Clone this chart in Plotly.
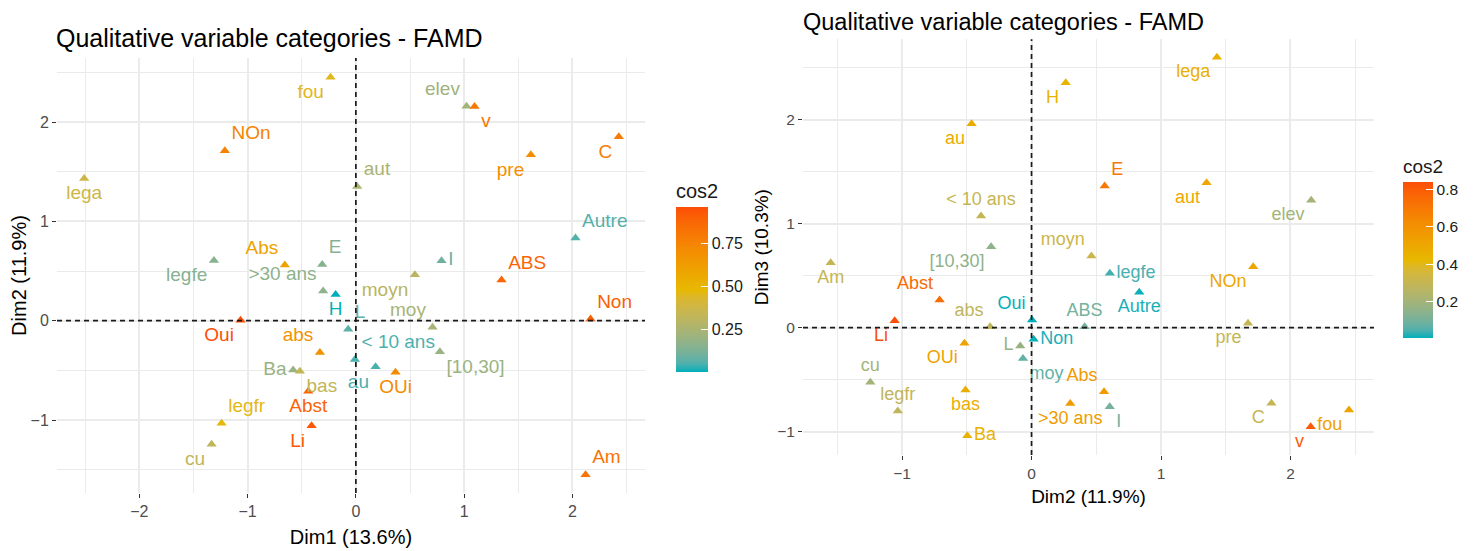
import plotly.graph_objects as go

# ---------------- data ----------------
categories = ["fou", "NOn", "lega", "aut", "legfe", "Abs", "E", "elev", "v", "C", "pre",
              "Autre", "I", "moyn", "ABS", ">30 ans", "H", "Oui", "L", "abs", "< 10 ans",
              "au", "Ba", "bas", "Abst", "legfr", "Li", "cu", "Non", "moy", "[10,30]",
              "OUi", "Am"]
dim1 = [-0.234, -1.21, -2.509, 0.012, -1.311, -0.656, -0.311, 1.022, 1.096, 2.428, 1.616,
        2.028, 0.791, 0.545, 1.345, -0.302, -0.187, -1.065, -0.071, -0.332, -0.009,
        0.182, -0.579, -0.517, -0.44, -1.24, -0.409, -1.332, 2.167, 0.708, 0.776,
        0.366, 2.121]
dim2 = [2.452, 1.712, 1.432, 1.352, 0.605, 0.56, 0.565, 2.16, 2.156, 1.853, 1.672,
        0.832, 0.604, 0.463, 0.41, 0.299, 0.264, 0.004, -0.087, -0.32, -0.39,
        -0.463, -0.496, -0.51, -0.71, -1.033, -1.057, -1.245, 0.016, -0.066, -0.312,
        -0.518, -1.551]
dim3 = [-0.791, 0.587, 2.60, 1.394, 0.523, -0.615, 1.362, 1.225, -0.952, -0.727, 0.042,
        0.34, -0.76, 0.689, 0.01, -0.728, 2.356, 0.074, -0.176, 0.01, 1.074,
        1.962, -1.04, -0.60, 0.266, -0.80, 0.067, -0.525, -0.112, -0.295, 0.779,
        -0.15, 0.625]
cos2_12 = [0.45, 0.75, 0.38, 0.25, 0.15, 0.60, 0.15, 0.22, 0.80, 0.78, 0.70,
           0.06, 0.10, 0.30, 0.88, 0.17, 0.005, 0.96, 0.07, 0.68, 0.05,
           0.05, 0.20, 0.33, 0.88, 0.47, 0.93, 0.32, 0.90, 0.24, 0.20,
           0.72, 0.82]
cos2_23 = [0.52, 0.50, 0.46, 0.50, 0.04, 0.56, 0.70, 0.20, 0.80, 0.30, 0.30,
           0.01, 0.10, 0.32, 0.10, 0.55, 0.44, 0.005, 0.17, 0.28, 0.30,
           0.48, 0.45, 0.47, 0.75, 0.28, 0.84, 0.20, 0.01, 0.07, 0.15,
           0.52, 0.30]
ticks_cb1 = [0.25, 0.50, 0.75]
ticks_cb2 = [0.2, 0.4, 0.6, 0.8]

# ---------------- label placement (style) ----------------
pos_left = ["bottom left", "top right", "bottom center", "top right", "bottom left", "top left",
            "top right", "top left", "bottom right", "bottom left", "bottom left",
            "top right", "middle right", "bottom left", "top right", "top left", "bottom center",
            "bottom left", "top right", "top left", "top right", "bottom left", "middle left",
            "bottom right", "bottom center", "top right", "bottom left", "bottom left",
            "top right", "top left", "bottom right", "bottom center", "top right"]
pos_right = ["bottom left", "bottom left", "bottom left", "bottom left", "middle right", "top left",
             "top right", "bottom left", "bottom left", "bottom left", "bottom left",
             "bottom center", "bottom right", "top left", "top center", "bottom center", "bottom left",
             "top left", "middle left", "top left", "top center", "bottom left", "middle right",
             "bottom center", "top left", "top center", "bottom left", "top center",
             "middle right", "bottom right", "bottom left", "bottom left", "bottom center"]

# ---------------- colour scale (CIELAB interpolation like ggplot) ----------------
grad = ["#00AFBB", "#E7B800", "#FC4E07"]


def _hex2rgb(h):
    h = h.lstrip("#")
    return [int(h[i:i + 2], 16) for i in (0, 2, 4)]


def _rgb2lab(rgb):
    def lin(c):
        c = c / 255.0
        return c / 12.92 if c <= 0.04045 else ((c + 0.055) / 1.055) ** 2.4
    r, g, b = [lin(c) for c in rgb]
    X = (0.4124 * r + 0.3576 * g + 0.1805 * b) / 0.95047
    Y = (0.2126 * r + 0.7152 * g + 0.0722 * b)
    Z = (0.0193 * r + 0.1192 * g + 0.9505 * b) / 1.08883

    def f(t):
        return t ** (1 / 3) if t > 0.008856 else 7.787 * t + 16 / 116
    fx, fy, fz = f(X), f(Y), f(Z)
    return [116 * fy - 16, 500 * (fx - fy), 200 * (fy - fz)]


def _lab2hex(lab):
    L, a, b = lab
    fy = (L + 16) / 116
    fx = fy + a / 500
    fz = fy - b / 200

    def finv(t):
        return t ** 3 if t ** 3 > 0.008856 else (t - 16 / 116) / 7.787
    X, Y, Z = finv(fx) * 0.95047, finv(fy), finv(fz) * 1.08883
    r = 3.2406 * X - 1.5372 * Y - 0.4986 * Z
    g = -0.9689 * X + 1.8758 * Y + 0.0415 * Z
    bb = 0.0557 * X - 0.2040 * Y + 1.0570 * Z

    def gam(c):
        c = max(0.0, min(1.0, c))
        return 12.92 * c if c <= 0.0031308 else 1.055 * c ** (1 / 2.4) - 0.055
    return "#%02X%02X%02X" % tuple(int(round(gam(c) * 255)) for c in (r, g, bb))


_labs = [_rgb2lab(_hex2rgb(c)) for c in grad]


def ramp(t):
    t = max(0.0, min(1.0, t))
    seg = min(int(t * 2), 1)
    u = t * 2 - seg
    l0, l1 = _labs[seg], _labs[seg + 1]
    return _lab2hex([l0[i] + (l1[i] - l0[i]) * u for i in range(3)])


colorscale = [[i / 20, ramp(i / 20)] for i in range(21)]


def value_colors(vals):
    lo, hi = min(vals), max(vals)
    return [ramp((v - lo) / (hi - lo)) for v in vals]


FONT = "Liberation Sans, Arial, sans-serif"
# the page body adds an 8px margin, so the figure is laid out in page pixels minus 8
OFF = 8
W, H = 1468, 543


def px(X):
    return (X - OFF) / W


def py(Y):
    return 1 - (Y - OFF) / H


fig = go.Figure()

fig.add_trace(go.Scatter(
    x=dim1, y=dim2, mode="markers+text", text=categories,
    textposition=pos_left,
    textfont=dict(family=FONT, size=19, color=value_colors(cos2_12)),
    marker=dict(symbol="triangle-up", size=9, color=cos2_12, coloraxis="coloraxis"),
    xaxis="x", yaxis="y", showlegend=False, cliponaxis=False,
))
fig.add_trace(go.Scatter(
    x=dim2, y=dim3, mode="markers+text", text=categories,
    textposition=pos_right,
    textfont=dict(family=FONT, size=18, color=value_colors(cos2_23)),
    marker=dict(symbol="triangle-up", size=9, color=cos2_23, coloraxis="coloraxis2"),
    xaxis="x2", yaxis="y2", showlegend=False, cliponaxis=False,
))

grid = "#EBEBEB"


def axis(domain, rng, title, anchor, tfs, afs, standoff):
    return dict(domain=domain, range=rng, anchor=anchor, dtick=1, tick0=0,
                showgrid=True, gridcolor=grid, gridwidth=1.6, zeroline=False, showline=False,
                minor=dict(dtick=0.5, showgrid=True, gridcolor=grid, gridwidth=1.2),
                ticks="outside", ticklen=4, tickwidth=1.2, tickcolor="#333333",
                tickfont=dict(family=FONT, size=tfs, color="#4D4D4D"),
                title=dict(text=title, font=dict(family=FONT, size=afs, color="#000000"),
                           standoff=standoff),
                automargin=False)


dash = dict(color="#1A1A1A", width=1.7, dash="5px,4px")

fig.update_layout(
    width=W, height=H, margin=dict(l=0, r=0, t=0, b=0),
    paper_bgcolor="white", plot_bgcolor="white",
    xaxis=axis([px(57), px(645)], [-2.76, 2.67], "Dim1 (13.6%)", "y", 16, 20, 10),
    yaxis=axis([py(493), py(58)], [-1.735, 2.645], "Dim2 (11.9%)", "x", 16, 20, 3),
    xaxis2=axis([px(803), px(1374)], [-1.765, 2.645], "Dim2 (11.9%)", "y2", 15.5, 19, 9),
    yaxis2=axis([py(455), py(39.3)], [-1.224, 2.773], "Dim3 (10.3%)", "x2", 15.5, 19, 3),
    coloraxis=dict(
        colorscale=colorscale,
        colorbar=dict(
            title=dict(text="cos2", side="top", font=dict(family=FONT, size=20, color="#1A1A1A")),
            x=px(676), xanchor="left", xpad=0, thickness=32,
            y=py(372), yanchor="bottom", ypad=0, lenmode="pixels", len=192,
            tickvals=ticks_cb1, tickformat=".2f", ticks="inside", tickcolor="white", ticklen=7,
            tickfont=dict(family=FONT, size=16, color="#1A1A1A"), outlinewidth=0,
        )),
    coloraxis2=dict(
        colorscale=colorscale,
        colorbar=dict(
            title=dict(text="cos2", side="top", font=dict(family=FONT, size=19, color="#1A1A1A")),
            x=px(1403), xanchor="left", xpad=0, thickness=30,
            y=py(338), yanchor="bottom", ypad=0, lenmode="pixels", len=182,
            tickvals=ticks_cb2, tickformat=".1f", ticks="inside", tickcolor="white", ticklen=7,
            tickfont=dict(family=FONT, size=15.5, color="#1A1A1A"), outlinewidth=0,
        )),
    annotations=[
        dict(text="Qualitative variable categories - FAMD", xref="paper", yref="paper",
             x=px(54), y=py(38), xanchor="left", yanchor="middle", showarrow=False,
             font=dict(family=FONT, size=25, color="#000000")),
        dict(text="Qualitative variable categories - FAMD", xref="paper", yref="paper",
             x=px(802), y=1, xanchor="left", yanchor="top", showarrow=False,
             borderpad=0, font=dict(family=FONT, size=23.5, color="#000000")),
    ],
    shapes=[
        dict(type="line", xref="x", yref="y domain", x0=0, x1=0, y0=0, y1=1,
             line=dash, layer="above"),
        dict(type="line", xref="x domain", yref="y", x0=0, x1=1, y0=0, y1=0,
             line=dash, layer="above"),
        dict(type="line", xref="x2", yref="y2 domain", x0=0, x1=0, y0=0, y1=1,
             line=dash, layer="above"),
        dict(type="line", xref="x2 domain", yref="y2", x0=0, x1=1, y0=0, y1=0,
             line=dash, layer="above"),
    ],
)

fig.write_html("out.html")
